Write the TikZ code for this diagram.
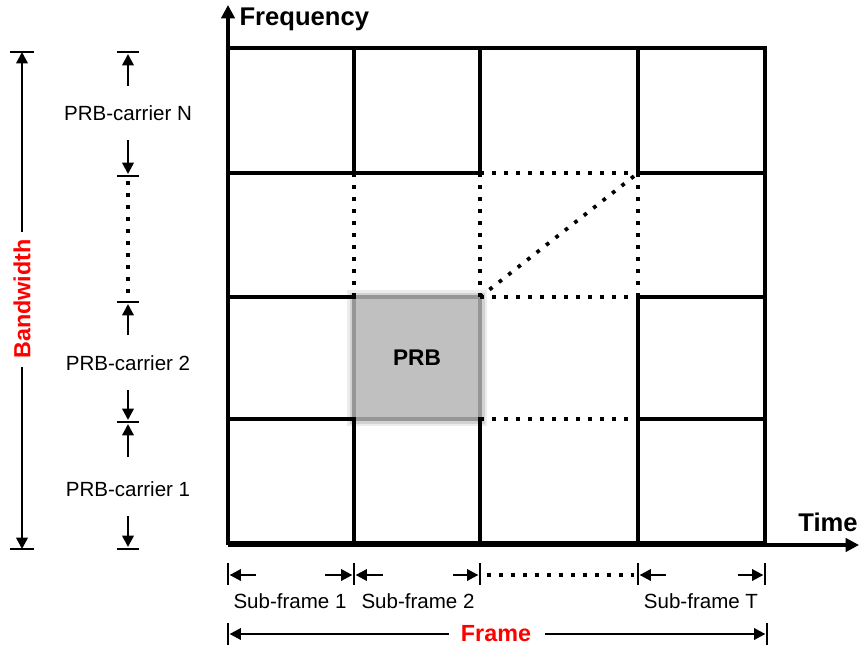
\documentclass[tikz,border=0pt]{standalone}
\usepackage{fontspec}
\setmainfont{Liberation Sans}
\usetikzlibrary{arrows.meta,calc}
\definecolor{prbfill}{RGB}{192,192,192}
\definecolor{prbedge}{RGB}{150,150,150}
\definecolor{redlbl}{RGB}{255,0,0}
\begin{document}
\begin{tikzpicture}[x=0.75pt,y=-0.75pt,
  gridline/.style={line width=2.6pt, line cap=rect},
  border/.style={line width=3.4pt},
  dots/.style={line width=2.8pt, dash pattern=on 2.8pt off 6.2pt},
  arr/.style={line width=1.8pt,-{Triangle[length=8.5pt,width=8.5pt]}},
  axis/.style={line width=2.4pt,-{Triangle[length=10pt,width=10pt]}},
  bar/.style={line width=1.9pt},
  lbl/.style={font=\fontsize{15.4}{18}\selectfont, inner sep=1pt},
  ttl/.style={font=\fontsize{19.2}{22}\selectfont\bfseries, inner sep=1pt}]
\useasboundingbox (0,0) rectangle (860,650);
% grid coordinates
\foreach \x [count=\i from 0] in {228,354,480,638,765}{
  \foreach \y [count=\j from 0] in {48,173,297,419,543}{
    \coordinate (g\i\j) at (\x,\y);
  }
}
% PRB block
\fill[gray!15] (347,290) rectangle (487,426);
\fill[gray!35] (349.5,292.5) rectangle (484.5,423.5);
\draw[draw=prbedge, fill=prbfill, line width=2.8pt] (g12) rectangle (g23);
\node[ttl, font=\fontsize{17}{20}\selectfont\bfseries] (prb) at ($(g12)!0.5!(g23)$) {PRB};
% solid grid lines
\draw[gridline] (g01) -- (g21);
\draw[gridline] (g31) -- (g41);
\draw[gridline] (g02) -- (g12);
\draw[gridline] (g32) -- (g42);
\draw[gridline] (g03) -- (g13);
\draw[gridline] (g33) -- (g43);
\draw[gridline] (g10) -- (g11);
\draw[gridline] (g20) -- (g21);
\draw[gridline] (g30) -- (g31);
\draw[gridline] (g13) -- (g14);
\draw[gridline] (g23) -- (g24);
\draw[gridline] (g32) -- (g34);
% dotted grid lines
\draw[dots] (g21) -- (g31);
\draw[dots] (g22) -- (g32);
\draw[dots] (g23) -- (g33);
\draw[dots] (g11) -- (g12);
\draw[dots] (g21) -- (g22);
\draw[dots] (g31) -- (g32);
\draw[dots] (g22) -- (g31);
% outer border
\draw[border] (g00) rectangle (g44);
% axes
\coordinate (ftop) at (228,5);
\coordinate (tend) at (859,545);
\draw[axis] (g04) -- (ftop);
\draw[axis] (228,545) -- (tend);
\draw[line width=3.6pt] (g04) -- (g44);
\node[ttl, anchor=west] (freq) at (238,19) {Frequency};
\node[ttl] (time) at (828,522) {Time};
% bandwidth
\coordinate (bwT) at (22,52);
\coordinate (bwB) at (22,549);
\draw[bar] (10,52) -- (34,52);
\draw[bar] (10,549) -- (34,549);
\node[ttl, rotate=90, text=redlbl, font=\fontsize{17.5}{20}\selectfont\bfseries] (bw) at (22,299) {Bandwidth};
\draw[arr] (22,232) -- (bwT);
\draw[arr] (22,367) -- (bwB);
% PRB-carrier markers
\foreach \y [count=\k] in {52,176,302,422,549}{
  \coordinate (b\k) at (128,\y);
  \draw[bar] (117,\y) -- (139,\y);
}
\node[lbl] (pN) at (128,113) {PRB-carrier N};
\node[lbl] (p2) at (128,363) {PRB-carrier 2};
\node[lbl] (p1) at (128,489) {PRB-carrier 1};
\draw[arr] (128,86) -- ([yshift=-1.5pt]b1);
\draw[arr] (128,140) -- ([yshift=1.5pt]b2);
\draw[dots] (128,181) -- (128,298);
\draw[arr] (128,335) -- ([yshift=-1.5pt]b3);
\draw[arr] (128,390) -- ([yshift=1.5pt]b4);
\draw[arr] (128,457) -- ([yshift=-1.5pt]b4);
\draw[arr] (128,516) -- ([yshift=1.5pt]b5);
% sub-frame markers
\foreach \x [count=\k] in {228,354,480,638,765}{
  \coordinate (s\k) at (\x,575);
  \draw[bar] (\x,563) -- (\x,585);
}
\draw[arr] (256,575) -- ([xshift=1.2pt]s1);
\draw[arr] (325,575) -- ([xshift=-1.2pt]s2);
\draw[arr] (383,575) -- ([xshift=1.2pt]s2);
\draw[arr] (453,575) -- ([xshift=-1.2pt]s3);
\draw[dots] (487,575) -- (634,575);
\draw[arr] (666,575) -- ([xshift=1.2pt]s4);
\draw[arr] (738,575) -- ([xshift=-1.2pt]s5);
\node[lbl] (sf1) at (290,601) {Sub-frame 1};
\node[lbl] (sf2) at (418,601) {Sub-frame 2};
\node[lbl] (sfT) at (701,601) {Sub-frame T};
% frame
\coordinate (fL) at (228,634);
\coordinate (fR) at (767,634);
\draw[bar] (228,623) -- (228,645);
\draw[bar] (767,623) -- (767,645);
\node[ttl, text=redlbl, font=\fontsize{17.5}{20}\selectfont\bfseries] (frame) at (496,634) {Frame};
\draw[arr] (449,634) -- ([xshift=1.2pt]fL);
\draw[arr] (545,634) -- ([xshift=-1.2pt]fR);
\end{tikzpicture}
\end{document}
